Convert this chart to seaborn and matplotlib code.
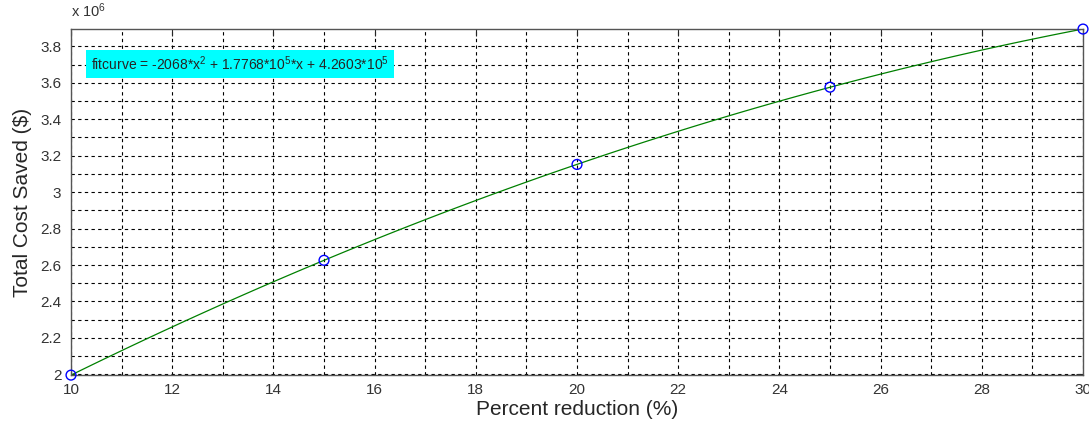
import numpy as np
import pandas as pd
import matplotlib
matplotlib.use("Agg")
import matplotlib.pyplot as plt
from matplotlib.ticker import MultipleLocator, FuncFormatter
import seaborn as sns

# data
percent_reduction = [10, 15, 20, 25, 30]
cost_saved = [1.996e6, 2.626e6, 3.152e6, 3.576e6, 3.895e6]
fit_label = r"fitcurve = -2068*x$^{2}$ + 1.7768*10$^{5}$*x + 4.2603*10$^{5}$"

df = pd.DataFrame({"pct": percent_reduction, "cost": cost_saved})

sns.set_style("white")
plt.rcParams["font.family"] = ["Liberation Sans", "DejaVu Sans"]
plt.rcParams["mathtext.fontset"] = "custom"
plt.rcParams["mathtext.rm"] = "Liberation Sans"
plt.rcParams["mathtext.it"] = "Liberation Sans"

fig = plt.figure(figsize=(10.89, 4.21), dpi=100)
ax = fig.add_axes([0.0652, 0.109, 0.9293, 0.822])

# quadratic fit curve, drawn by seaborn
sns.regplot(data=df, x="pct", y="cost", order=2, ci=None, scatter=False,
            truncate=True, line_kws={"color": "#008000", "lw": 0.9}, ax=ax)
sns.scatterplot(data=df, x="pct", y="cost", marker="o", s=50,
                facecolor="none", edgecolor="blue", linewidth=1.0, ax=ax, zorder=5,
                clip_on=False)

ax.set_xlim(10, 30)
ax.set_ylim(1.996e6, 3.895e6)
ax.xaxis.set_major_locator(MultipleLocator(2))
ax.xaxis.set_minor_locator(MultipleLocator(1))
ax.yaxis.set_major_locator(MultipleLocator(0.2e6))
ax.yaxis.set_minor_locator(MultipleLocator(0.1e6))
ax.yaxis.set_major_formatter(FuncFormatter(lambda v, p: "%g" % round(v / 1e6, 2)))

ax.grid(True, which="both", color="black", linestyle=(0, (3, 3)), linewidth=0.8)
ax.set_axisbelow(True)
ax.tick_params(which="both", direction="in", top=True, right=True,
               labelsize=11, labelcolor="#333333")
ax.tick_params(axis="y", pad=7)
ax.tick_params(axis="x", pad=6)
ax.tick_params(which="major", length=5)
ax.tick_params(which="minor", length=0)
for s in ax.spines.values():
    s.set_color("#555555")
    s.set_linewidth(1.0)

ax.set_xlabel("Percent reduction (%)", fontsize=15, labelpad=2)
ax.set_ylabel(r"Total Cost Saved (\$)", fontsize=15, labelpad=6)
ax.text(0.0, 1.025, r"x 10$^{6}$", transform=ax.transAxes, fontsize=10.5,
        color="#333333", ha="left", va="bottom")

ax.text(10.4, 3.705e6, fit_label, fontsize=10, va="center", ha="left",
        bbox=dict(facecolor="cyan", edgecolor="none", pad=3.5))

fig.savefig("out.png", dpi=100)
